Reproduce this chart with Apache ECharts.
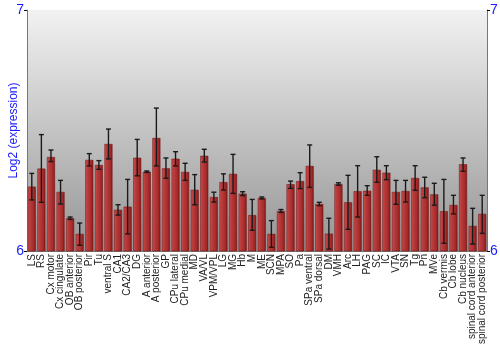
<!DOCTYPE html>
<html>
<head>
<meta charset="utf-8">
<script src="https://cdn.jsdelivr.net/npm/echarts@6/dist/echarts.min.js"></script>
<style>html,body{margin:0;padding:0;background:#fff;}#c{width:500px;height:350px;}</style>
</head>
<body>
<div id="c"></div>
<script>
const categories = ["LS","RS","Cx motor","Cx cingulate","OB anterior","OB posterior","Pir","Tu","ventral S","CA1","CA2/CA3","DG","A anterior","A posterior","GP","CPu lateral","CPu medial","MD","VA/VL","VPM/VPL","LG","MG","Hb","M","ME","SCN","MPA","SO","Pa","SPa ventral","SPa dorsal","DM","VMH","Arc","LH","PAG","SC","IC","VTA","SN","Tg","Pn","MVe","Cb vermis","Cb lobe","Cb nucleus","spinal cord anterior","spinal cord posterior"];
const values = [6.267,6.342,6.390,6.245,6.136,6.071,6.378,6.357,6.444,6.171,6.184,6.387,6.329,6.469,6.343,6.383,6.328,6.254,6.395,6.224,6.286,6.320,6.238,6.149,6.220,6.071,6.166,6.277,6.290,6.353,6.195,6.072,6.278,6.202,6.248,6.250,6.337,6.325,6.245,6.249,6.303,6.264,6.235,6.165,6.191,6.360,6.104,6.154];
const errLow = [6.212,6.202,6.371,6.195,6.131,6.024,6.353,6.339,6.382,6.149,6.071,6.312,6.326,6.353,6.302,6.353,6.293,6.192,6.369,6.203,6.253,6.239,6.230,6.086,6.216,6.015,6.160,6.260,6.259,6.264,6.188,6.008,6.273,6.090,6.141,6.231,6.285,6.296,6.194,6.203,6.252,6.221,6.190,6.032,6.154,6.331,6.029,6.073];
const errHigh = [6.322,6.483,6.419,6.293,6.141,6.116,6.404,6.375,6.506,6.192,6.297,6.463,6.332,6.593,6.386,6.412,6.364,6.317,6.422,6.244,6.320,6.401,6.246,6.214,6.224,6.126,6.172,6.290,6.325,6.440,6.202,6.136,6.283,6.314,6.354,6.271,6.391,6.354,6.293,6.293,6.354,6.306,6.281,6.297,6.231,6.386,6.177,6.231];
const yTicks = [6, 7];

const chart = echarts.init(document.getElementById('c'), null, {renderer: 'canvas'});
const barColor = new echarts.graphic.LinearGradient(0, 0, 1, 0, [
  {offset: 0, color: '#c85a5a'},
  {offset: 0.25, color: '#bb3c3c'},
  {offset: 0.7, color: '#a82c2c'},
  {offset: 1, color: '#801818'}
]);
const yAxisCommon = {
  type: 'value', min: yTicks[0], max: yTicks[1], interval: 1,
  axisLine: {show: true, lineStyle: {color: '#777', width: 1}},
  axisTick: {show: true, length: 3, lineStyle: {color: '#000'}},
  splitLine: {show: false},
  axisLabel: {color: '#1a1aff', fontSize: 14, fontFamily: 'Liberation Sans, Arial, sans-serif', margin: 3}
};
chart.setOption({
  animation: false,
  grid: {
    left: 27, right: 13, top: 10, bottom: 99, show: true, borderWidth: 0,
    containLabel: false, outerBoundsMode: 'none',
    backgroundColor: new echarts.graphic.LinearGradient(0, 0, 0, 1, [
      {offset: 0, color: '#f2f2f2'},
      {offset: 1, color: '#959595'}
    ])
  },
  xAxis: {
    type: 'category', data: categories,
    axisLine: {show: true, lineStyle: {color: '#777'}},
    axisTick: {show: false},
    axisLabel: {interval: 0, rotate: 90, fontSize: 10, color: '#222', margin: 3, fontFamily: 'Liberation Sans, Arial, sans-serif'}
  },
  yAxis: [
    Object.assign({}, yAxisCommon, {
      position: 'left', name: 'Log2 (expression)', nameLocation: 'middle', nameGap: 7,
      nameMoveOverlap: false,
      nameTextStyle: {color: '#1a1aff', fontSize: 12, fontFamily: 'Liberation Sans, Arial, sans-serif'}
    }),
    Object.assign({}, yAxisCommon, {position: 'right'})
  ],
  series: [
    {
      type: 'bar', data: values, barCategoryGap: '16%',
      itemStyle: {color: barColor, borderColor: '#7a1818', borderWidth: 0.6}
    },
    {
      type: 'custom', z: 5,
      data: categories.map((c, i) => [i, errLow[i], errHigh[i]]),
      renderItem: function (params, api) {
        const i = api.value(0);
        const lo = api.coord([i, api.value(1)]);
        const hi = api.coord([i, api.value(2)]);
        const hw = 2.5;
        const st = {stroke: '#1a1a1a', lineWidth: 1.4};
        return {
          type: 'group',
          children: [
            {type: 'line', shape: {x1: hi[0], y1: hi[1], x2: lo[0], y2: lo[1]}, style: st},
            {type: 'line', shape: {x1: hi[0] - hw, y1: hi[1], x2: hi[0] + hw, y2: hi[1]}, style: st},
            {type: 'line', shape: {x1: lo[0] - hw, y1: lo[1], x2: lo[0] + hw, y2: lo[1]}, style: st}
          ]
        };
      }
    }
  ]
});
</script>
</body>
</html>
